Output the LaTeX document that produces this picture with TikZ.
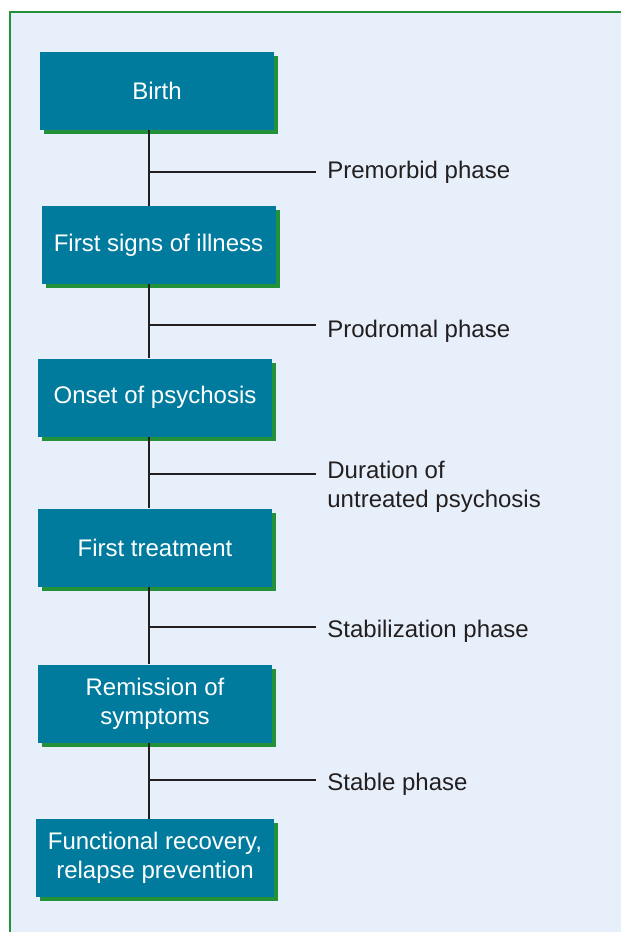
\documentclass[tikz,border=0pt]{standalone}
\usepackage{fontspec}
\setmainfont{Liberation Sans}
\usetikzlibrary{shadows}
\definecolor{boxblue}{HTML}{007B9E}
\definecolor{rimgreen}{HTML}{23913A}
\definecolor{panel}{HTML}{E7F0FA}
\definecolor{ink}{HTML}{231F20}

\begin{document}
\begin{tikzpicture}[x=0.5pt,y=-0.5pt,line cap=butt,
  stage/.style={fill=boxblue,text=white,minimum width=117pt,minimum height=39pt,inner sep=0pt,
    align=center,font=\fontsize{12}{14.5}\selectfont,
    drop shadow={shadow xshift=2pt,shadow yshift=-2pt,fill=rimgreen,opacity=1}},
  phase/.style={text=ink,inner sep=0pt,align=left,font=\fontsize{12}{14.5}\selectfont},
  link/.style={draw=ink,line width=1pt}]
\useasboundingbox (0,0) rectangle (621,932);
% panel
\fill[panel] (10,12) rectangle (621,932);
\draw[rimgreen,line width=1.2pt] (10,932) -- (10,12) -- (621,12);
\coordinate (spine) at (149,0);
% stages
\node[stage] (birth) at (157,90.5) {Birth};
\node[stage] (signs) at (158.5,245) {First signs of illness};
\node[stage] (onset) at (155,397.5) {Onset of psychosis};
\node[stage] (treat) at (155,547.5) {First treatment};
\node[stage] (remit) at (155,703.5) {Remission of\\symptoms};
\node[stage,minimum width=119pt] (recov) at (155,858) {Functional recovery,\\relapse prevention};
% branch ends
\coordinate (p1) at (316,172);
\coordinate (p2) at (316,325);
\coordinate (p3) at (316,474);
\coordinate (p4) at (316,627);
\coordinate (p5) at (316,780);
% phases
\node[phase,anchor=west] (premorbid) at (327,172) {Premorbid phase};
\node[phase,anchor=west] (prodromal) at (327,331) {Prodromal phase};
\node[phase,anchor=north west] (untreated) at (327,461) {Duration of\\untreated psychosis};
\node[phase,anchor=west] (stabil) at (327,631) {Stabilization phase};
\node[phase,anchor=west] (stable) at (327,784) {Stable phase};
% connectors
\draw[link] (birth.south -| spine) -- (signs.north -| spine);
\draw[link] (signs.south -| spine) -- (onset.north -| spine);
\draw[link] (onset.south -| spine) -- (treat.north -| spine);
\draw[link] (treat.south -| spine) -- (remit.north -| spine);
\draw[link] (remit.south -| spine) -- (recov.north -| spine);
\foreach \p in {p1,p2,p3,p4,p5}
  \draw[link] (\p -| spine) -- (\p);
\end{tikzpicture}
\end{document}
